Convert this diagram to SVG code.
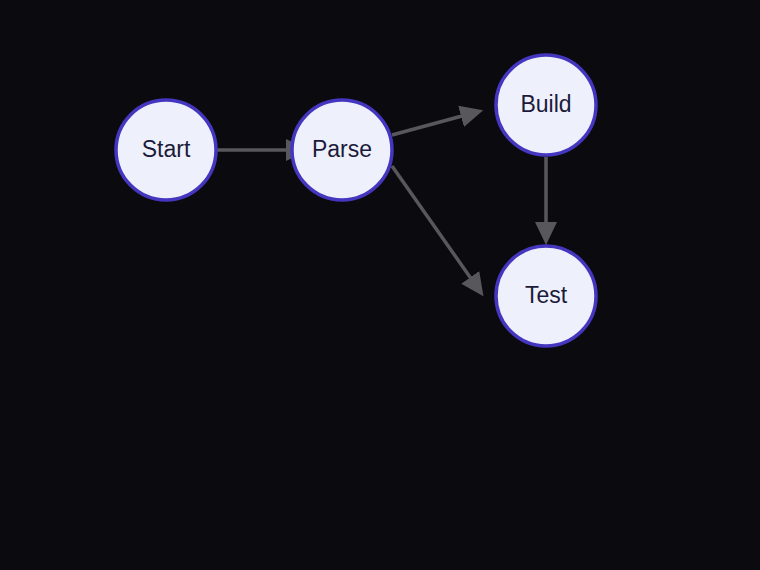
<svg xmlns="http://www.w3.org/2000/svg" width="760" height="570" viewBox="0 0 760 570">
<style>
.node circle{fill:#eef1fc;stroke:#4536c0;stroke-width:3.5}
.node text{font-family:"Liberation Sans",Arial,sans-serif;font-size:23px;fill:#1c1a3a;text-anchor:middle;dominant-baseline:central}
.edge{stroke:#58585c;stroke-width:3.5;fill:none;marker-end:url(#arr)}
</style>
<defs>
<marker id="arr" markerUnits="userSpaceOnUse" markerWidth="26" markerHeight="24" refX="1" refY="11" orient="auto">
<path d="M0,0 L23,11 L0,22 z" fill="#58585c"/>
</marker>
</defs>
<rect width="760" height="570" fill="#0b0b0f"/>
<g id="connectors">
<line class="edge" x1="217" y1="150" x2="287" y2="150"/>
<line class="edge" x1="392" y1="135" x2="462" y2="116"/>
<line class="edge" x1="392" y1="166" x2="470.8" y2="278.2"/>
<line class="edge" x1="546" y1="157" x2="546" y2="223"/>
</g>
<g id="start" class="node"><circle cx="166" cy="150" r="50"/><text x="166" y="149">Start</text></g>
<g id="parse" class="node"><circle cx="342" cy="150" r="50"/><text x="342" y="149">Parse</text></g>
<g id="build" class="node"><circle cx="546" cy="105" r="50"/><text x="546" y="104">Build</text></g>
<g id="test" class="node"><circle cx="546" cy="296" r="50"/><text x="546" y="295">Test</text></g>
</svg>
